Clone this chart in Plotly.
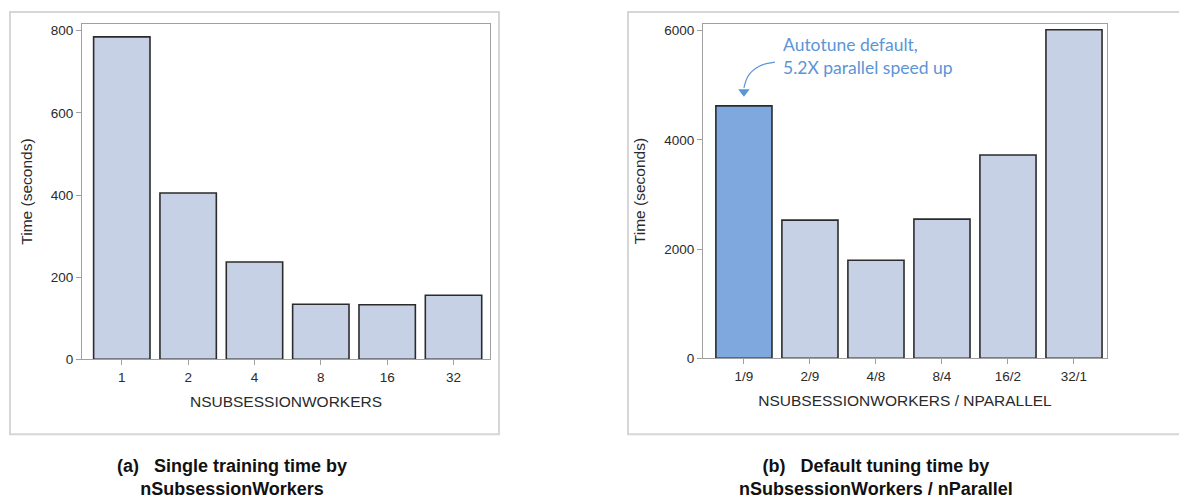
import plotly.graph_objects as go

# ---- data ----
workers = ["1", "2", "4", "8", "16", "32"]
train_time = [785, 405, 237, 134, 133, 156]

combos = ["1/9", "2/9", "4/8", "8/4", "16/2", "32/1"]
tune_time = [4624, 2532, 1798, 2550, 3725, 6018]
highlight = "1/9"

W, H = 1187, 504
BAR = "#c6d1e6"
HIL = "#7fa9de"
EDGE = "#2b2b2b"
AXC = "#a0a0a0"
TXT = "#2a2a2a"
BLUE = "#5b95d6"

fig = go.Figure()

fig.add_trace(go.Bar(
    x=list(range(len(workers))), y=train_time, width=0.85,
    marker=dict(color=BAR, line=dict(color=EDGE, width=1.6)),
    xaxis="x", yaxis="y", showlegend=False, hoverinfo="y"))

fig.add_trace(go.Bar(
    x=list(range(len(combos))), y=tune_time, width=0.85,
    marker=dict(color=[HIL if c == highlight else BAR for c in combos],
                line=dict(color=EDGE, width=1.6)),
    xaxis="x2", yaxis="y2", showlegend=False, hoverinfo="y"))

# curved arrow for annotation (in axis-2 data units)
hi = combos.index(highlight)
top = tune_time[hi]
fig.add_trace(go.Scatter(
    x=[hi + 0.47, hi + 0.24, hi + 0.07, hi], y=[top + 800, top + 730, top + 560, top + 330],
    mode="lines", line=dict(color=BLUE, width=1.2, shape="spline"),
    xaxis="x2", yaxis="y2", showlegend=False, hoverinfo="skip"))
fig.add_trace(go.Scatter(
    x=[hi], y=[top + 260], mode="markers",
    marker=dict(symbol="triangle-down", size=10, color=BLUE),
    xaxis="x2", yaxis="y2", showlegend=False, hoverinfo="skip"))

def px_x(a, b):
    return [a / W, b / W]

def px_y(top_px, bot_px):
    return [1 - bot_px / H, 1 - top_px / H]

axis_common = dict(
    showline=True, linecolor=AXC, linewidth=1, mirror=True,
    ticks="outside", ticklen=5, tickcolor=AXC,
    showgrid=False, zeroline=False,
    tickfont=dict(family="Liberation Sans, Arial, sans-serif", size=13.5, color=TXT),
)
title_font = dict(family="Liberation Sans, Arial, sans-serif", size=15.5, color=TXT)

fig.update_layout(
    width=W, height=H,
    margin=dict(l=0, r=0, t=0, b=0),
    paper_bgcolor="white", plot_bgcolor="white",
    xaxis=dict(domain=px_x(74, 482), range=[-0.6, 5.55],
               tickmode="array", tickvals=list(range(len(workers))), ticktext=workers,
               title=dict(text="NSUBSESSIONWORKERS", font=title_font, standoff=12),
               anchor="y", **axis_common),
    yaxis=dict(domain=px_y(16, 357), range=[0, 817], tickvals=[0, 200, 400, 600, 800],
               title=dict(text="Time (seconds)", font=title_font, standoff=14),
               anchor="x", **axis_common),
    xaxis2=dict(domain=px_x(695, 1099), range=[-0.62, 5.5],
                tickmode="array", tickvals=list(range(len(combos))), ticktext=combos,
                title=dict(text="NSUBSESSIONWORKERS / NPARALLEL", font=title_font, standoff=12),
                anchor="y2", **axis_common),
    yaxis2=dict(domain=px_y(16, 356), range=[0, 6128], tickvals=[0, 2000, 4000, 6000],
                title=dict(text="Time (seconds)", font=title_font, standoff=14),
                anchor="x2", **axis_common),
)

# outer panel frames
for (x0, x1) in [(2, 491), (620, 1182)]:
    fig.add_shape(type="rect", xref="paper", yref="paper",
                  x0=x0 / W, x1=x1 / W, y0=1 - 433 / H, y1=1 - 4 / H,
                  line=dict(color="#d6d6d6", width=2), fillcolor="rgba(0,0,0,0)", layer="below")

# annotation text
fig.add_annotation(
    xref="x2", yref="y2", x=hi + 0.56, y=top + 910, xanchor="left", yanchor="middle",
    text="Autotune default,<br>5.2X parallel speed up", showarrow=False, align="left",
    font=dict(family="Lato, Open Sans, sans-serif", size=17.5, color=BLUE))

cap_font = dict(family="Liberation Sans Narrow, Arial Narrow, Liberation Sans, Arial, sans-serif",
                size=18, color="#111111")
fig.add_annotation(xref="paper", yref="paper", x=224 / W, y=1 - 477 / H,
                   xanchor="center", yanchor="middle",
                   text="<b>(a)   Single training time by<br>nSubsessionWorkers</b>",
                   showarrow=False, align="center", font=cap_font)
fig.add_annotation(xref="paper", yref="paper", x=868 / W, y=1 - 477 / H,
                   xanchor="center", yanchor="middle",
                   text="<b>(b)   Default tuning time by<br>nSubsessionWorkers / nParallel</b>",
                   showarrow=False, align="center", font=cap_font)

fig.write_html("out.html")
